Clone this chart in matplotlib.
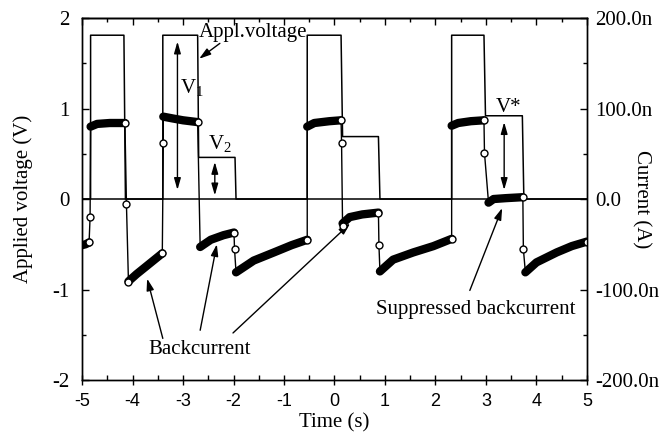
import matplotlib
matplotlib.use("Agg")
import matplotlib.pyplot as plt
from matplotlib.ticker import MultipleLocator

plt.rcParams['font.family'] = ['Liberation Serif', 'DejaVu Serif']
plt.rcParams['mathtext.fontset'] = 'custom'
plt.rcParams['mathtext.rm'] = 'Liberation Serif'
plt.rcParams['axes.unicode_minus'] = False

# applied voltage, left axis (V)
volt_t = [-5.0, -4.83, -4.83, -4.17, -4.14, -3.40, -3.40, -2.71, -2.69, -1.97, -1.95,
          -0.54, -0.54, 0.13, 0.16, 0.87, 0.90, 2.32, 2.32, 2.96, 2.99, 3.72, 3.75, 5.0]
volt_v = [0, 0, 1.81, 1.81, 0, 0, 1.81, 1.81, 0.46, 0.46, 0,
          0, 1.81, 1.81, 0.69, 0.69, 0, 0, 1.81, 1.81, 0.92, 0.92, 0, 0]

# current, right axis (nA) - filled (dense point) parts
seg_t = [[-5.0, -4.93, -4.86],
         [-4.83, -4.7, -4.45, -4.15],
         [-4.08, -3.92, -3.72, -3.41],
         [-3.39, -3.2, -3.0, -2.71],
         [-2.66, -2.45, -2.2, -1.99],
         [-1.95, -1.6, -1.2, -0.85, -0.54],
         [-0.54, -0.4, -0.1, 0.13],
         [0.16, 0.3, 0.55, 0.87],
         [0.90, 1.16, 1.56, 1.96, 2.32],
         [2.32, 2.45, 2.7, 2.96],
         [3.05, 3.15, 3.4, 3.72],
         [3.78, 4.0, 4.4, 4.7, 5.0]]
seg_i = [[-51, -50, -48],
         [80, 83, 84, 84],
         [-91, -83, -74, -60],
         [91, 89, 87, 85],
         [-53, -45, -40, -37],
         [-81, -68, -59, -51, -45],
         [80, 84, 86, 87],
         [-27, -20, -17, -15],
         [-80, -67, -59, -52, -44],
         [81, 84, 86, 87],
         [-4, 0, 1, 2],
         [-81, -70, -59, -52, -47]]

# open circles after each filled part
gap_t = [[-4.86, -4.84],
         [-4.15, -4.12, -4.08],
         [-3.41, -3.39],
         [-2.71],
         [-1.99, -1.98],
         [-0.54],
         [0.13, 0.14, 0.16],
         [0.87, 0.88],
         [2.32],
         [2.96, 2.97],
         [3.73, 3.74],
         [5.0]]
gap_i = [[-48, -20],
         [84, -6, -92],
         [-60, 62],
         [85],
         [-37, -55],
         [-45],
         [87, 62, -30],
         [-15, -51],
         [-44],
         [87, 51],
         [2, -55],
         [-47]]

cur_ticks = [-200, -100, 0, 100, 200]
cur_labels = ['-200.0n', '-100.0n', '0.0', '100.0n', '200.0n']

fig = plt.figure(figsize=(6.7, 4.45), dpi=100)
ax = fig.add_axes([0.1224, 0.146, 0.7537, 0.8135])
ax2 = ax.twinx()

ax.axhline(0, color='black', lw=1.1)
ax.plot(volt_t, volt_v, color='black', lw=1.1)

# thin line through the whole current trace
line_t, line_i = [], []
for st, si, gt, gi in zip(seg_t, seg_i, gap_t, gap_i):
    line_t += st + gt
    line_i += si + gi
ax2.plot(line_t, line_i, color='black', lw=1.0)
for st, si in zip(seg_t, seg_i):
    ax2.plot(st, si, color='black', lw=6, solid_capstyle='round',
             solid_joinstyle='round')
open_t = sum(gap_t, [])
open_i = sum(gap_i, [])
ax2.plot(open_t, open_i, 'o', ms=5, mfc='white', mec='black', mew=1.0, ls='none')

ax.set_xlim(-5, 5)
ax.set_ylim(-2, 2)
ax2.set_ylim(-200, 200)

ax.xaxis.set_major_locator(MultipleLocator(1))
ax.xaxis.set_minor_locator(MultipleLocator(0.5))
ax.yaxis.set_major_locator(MultipleLocator(1))
ax.yaxis.set_minor_locator(MultipleLocator(0.5))
ax2.set_yticks(cur_ticks, cur_labels)
ax2.yaxis.set_minor_locator(MultipleLocator(50))

ax.tick_params(axis='x', which='major', direction='inout', length=7, width=1,
               pad=6, labelsize=13, labelfontfamily='Liberation Sans')
ax.tick_params(axis='x', which='minor', direction='in', length=3.5, width=1)
ax.tick_params(axis='y', which='both', direction='in', width=1)
ax.tick_params(axis='y', which='major', length=5, pad=9, labelsize=15)
ax.tick_params(axis='y', which='minor', length=3)
ax2.tick_params(axis='y', which='both', direction='in', width=1)
ax2.tick_params(axis='y', which='major', length=5, pad=6, labelsize=15)
ax2.tick_params(axis='y', which='minor', length=3)

top = ax.secondary_xaxis('top')
top.xaxis.set_major_locator(MultipleLocator(1))
top.xaxis.set_minor_locator(MultipleLocator(0.5))
top.tick_params(which='both', direction='in', labeltop=False, width=1)
top.tick_params(which='major', length=5)
top.tick_params(which='minor', length=3)

for a in (ax, ax2):
    for s in a.spines.values():
        s.set_linewidth(1.0)
top.spines['top'].set_linewidth(1.0)

ax.set_xlabel('Time (s)', fontsize=15)
ax.xaxis.set_label_coords(0.5, -0.092)
ax.set_ylabel('Applied voltage (V)', fontsize=15)
ax.yaxis.set_label_coords(-0.097, 0.5)
ax2.set_ylabel('Current (A)', fontsize=15, rotation=270, va='bottom')
ax2.yaxis.set_label_coords(1.089, 0.5)

# annotations
one = dict(arrowstyle='-|>,head_length=0.7,head_width=0.22', color='black',
           lw=1.0, shrinkA=0, shrinkB=0)
two = dict(arrowstyle='<|-|>,head_length=0.7,head_width=0.2', color='black',
           lw=1.0, shrinkA=0, shrinkB=0)

ax.text(-2.68, 1.79, 'Appl.voltage', fontsize=15, ha='left', va='baseline')
ax.annotate('', xy=(-2.68, 1.55), xytext=(-2.27, 1.72), arrowprops=one)

ax.annotate('', xy=(-3.11, 1.74), xytext=(-3.11, 0.10), arrowprops=two)
ax.text(-3.06, 1.22, r'V$_{\mathrm{1}}$', fontsize=15, ha='left', va='center')
ax.annotate('', xy=(-2.37, 0.41), xytext=(-2.37, 0.04), arrowprops=two)
ax.text(-2.50, 0.61, r'V$_{\mathrm{2}}$', fontsize=15, ha='left', va='center')
ax.annotate('', xy=(3.36, 0.85), xytext=(3.36, 0.10), arrowprops=two)
ax.text(3.20, 1.01, 'V*', fontsize=15, ha='left', va='center')

ax.text(-2.68, -1.66, 'Backcurrent', fontsize=15, ha='center', va='center')
ax.annotate('', xy=(-3.71, -0.88), xytext=(-3.40, -1.54), arrowprops=one)
ax.annotate('', xy=(-2.33, -0.50), xytext=(-2.66, -1.45), arrowprops=one)
ax.annotate('', xy=(0.31, -0.27), xytext=(-2.01, -1.48), arrowprops=one)

ax.text(0.82, -1.22, 'Suppressed backcurrent', fontsize=15, ha='left', va='center')
ax.annotate('', xy=(3.32, -0.10), xytext=(2.68, -1.01), arrowprops=one)

fig.savefig('out.png', dpi=100)
